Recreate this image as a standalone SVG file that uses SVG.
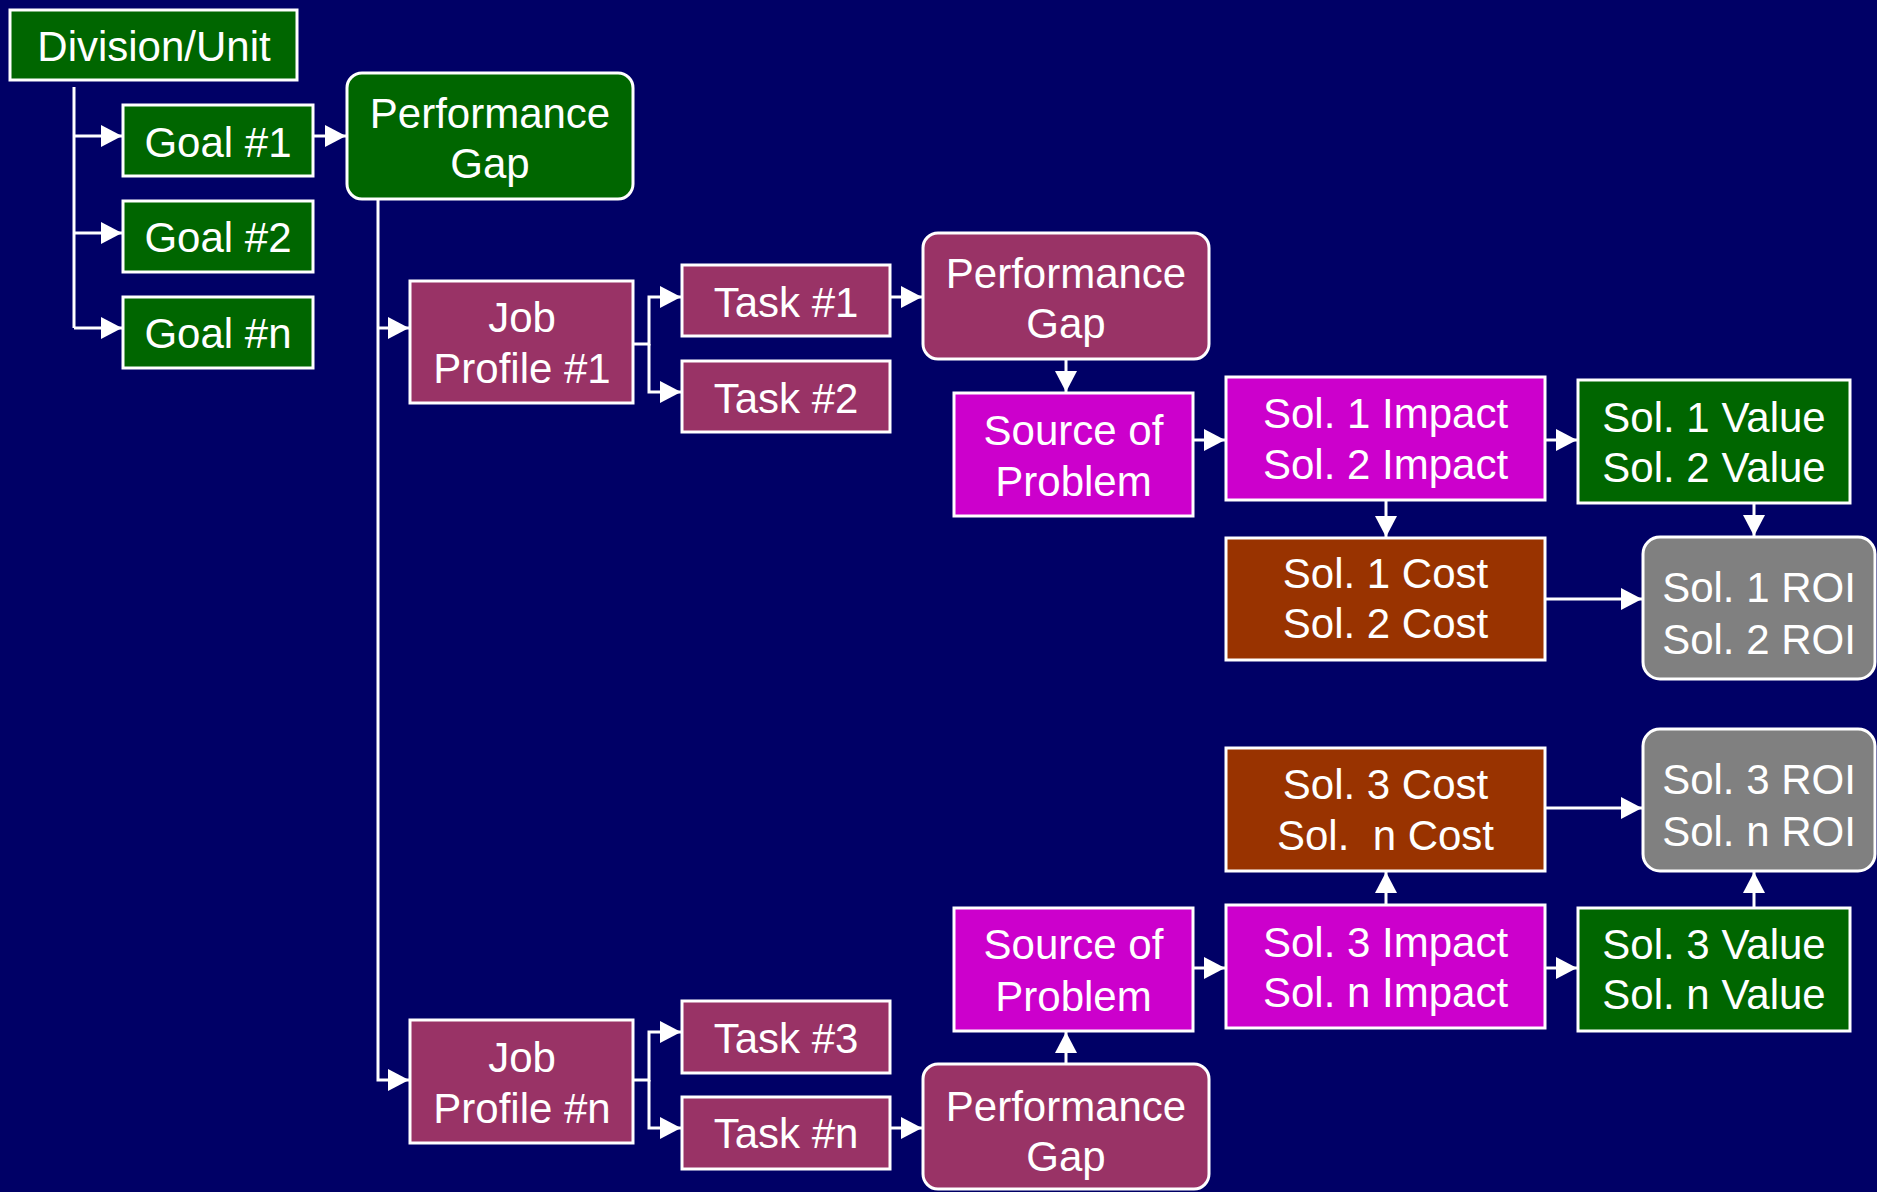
<svg xmlns="http://www.w3.org/2000/svg" width="1877" height="1192" viewBox="0 0 1877 1192">
<defs>
<marker id="ah" markerUnits="userSpaceOnUse" markerWidth="22" markerHeight="22" refX="21" refY="11" orient="auto">
<path d="M0,0 L21,11 L0,22 z" fill="#FFFFFF"/>
</marker>
<style>
.box{stroke:#FFFFFF;stroke-width:3}
.green{fill:#006600}
.maroon{fill:#993366}
.magenta{fill:#CC00CC}
.brown{fill:#993300}
.gray{fill:#808080}
.t{font-family:"Liberation Sans",Arial,sans-serif;font-size:42px;fill:#FFFFFF;text-anchor:middle;white-space:pre}
.conn path{fill:none;stroke:#FFFFFF;stroke-width:3}
</style>
</defs>
<rect x="0" y="0" width="1877" height="1192" fill="#000066"/>

<g id="connectors" class="conn">
<path d="M74,87 V328"/>
<path d="M74,136 H122" marker-end="url(#ah)"/>
<path d="M74,233 H122" marker-end="url(#ah)"/>
<path d="M74,328 H122" marker-end="url(#ah)"/>
<path d="M314,136 H346" marker-end="url(#ah)"/>
<path d="M378,200 V1080 H409" marker-end="url(#ah)"/>
<path d="M378,328 H409" marker-end="url(#ah)"/>
<path d="M634,344 H649 V297 H681" marker-end="url(#ah)"/>
<path d="M649,344 V392 H681" marker-end="url(#ah)"/>
<path d="M891,297 H922" marker-end="url(#ah)"/>
<path d="M1066,360 V392" marker-end="url(#ah)"/>
<path d="M1194,440 H1225" marker-end="url(#ah)"/>
<path d="M1546,440 H1577" marker-end="url(#ah)"/>
<path d="M1386,501 V537" marker-end="url(#ah)"/>
<path d="M1754,504 V536" marker-end="url(#ah)"/>
<path d="M1546,599 H1642" marker-end="url(#ah)"/>
<path d="M634,1080 H649 V1032 H681" marker-end="url(#ah)"/>
<path d="M649,1080 V1128 H681" marker-end="url(#ah)"/>
<path d="M891,1128 H922" marker-end="url(#ah)"/>
<path d="M1066,1063 V1032" marker-end="url(#ah)"/>
<path d="M1194,968 H1225" marker-end="url(#ah)"/>
<path d="M1546,968 H1577" marker-end="url(#ah)"/>
<path d="M1386,904 V872" marker-end="url(#ah)"/>
<path d="M1754,907 V872" marker-end="url(#ah)"/>
<path d="M1546,808 H1642" marker-end="url(#ah)"/>
</g>

<g id="division">
<rect class="box green" x="10" y="10" width="287" height="70"/>
<text class="t" x="154" y="61">Division/Unit</text>
</g>
<g id="goal1">
<rect class="box green" x="123" y="105" width="190" height="71"/>
<text class="t" x="218" y="157">Goal #1</text>
</g>
<g id="goal2">
<rect class="box green" x="123" y="201" width="190" height="71"/>
<text class="t" x="218" y="252">Goal #2</text>
</g>
<g id="goaln">
<rect class="box green" x="123" y="297" width="190" height="71"/>
<text class="t" x="218" y="348">Goal #n</text>
</g>
<g id="perfgap1">
<rect class="box green" x="347" y="73" width="286" height="126" rx="15"/>
<text class="t" x="490" y="128">Performance</text>
<text class="t" x="490" y="178">Gap</text>
</g>
<g id="jobprofile1">
<rect class="box maroon" x="410" y="281" width="223" height="122"/>
<text class="t" x="522" y="332">Job</text>
<text class="t" x="522" y="383">Profile #1</text>
</g>
<g id="task1">
<rect class="box maroon" x="682" y="265" width="208" height="71"/>
<text class="t" x="786" y="317">Task #1</text>
</g>
<g id="task2">
<rect class="box maroon" x="682" y="361" width="208" height="71"/>
<text class="t" x="786" y="413">Task #2</text>
</g>
<g id="perfgap2">
<rect class="box maroon" x="923" y="233" width="286" height="126" rx="15"/>
<text class="t" x="1066" y="288">Performance</text>
<text class="t" x="1066" y="338">Gap</text>
</g>
<g id="source1">
<rect class="box magenta" x="954" y="393" width="239" height="123"/>
<text class="t" x="1073.5" y="445">Source of</text>
<text class="t" x="1073.5" y="496">Problem</text>
</g>
<g id="impact1">
<rect class="box magenta" x="1226" y="377" width="319" height="123"/>
<text class="t" x="1385.5" y="428">Sol. 1 Impact</text>
<text class="t" x="1385.5" y="479">Sol. 2 Impact</text>
</g>
<g id="value1">
<rect class="box green" x="1578" y="380" width="272" height="123"/>
<text class="t" x="1714" y="432">Sol. 1 Value</text>
<text class="t" x="1714" y="482">Sol. 2 Value</text>
</g>
<g id="cost1">
<rect class="box brown" x="1226" y="538" width="319" height="122"/>
<text class="t" x="1385.5" y="588">Sol. 1 Cost</text>
<text class="t" x="1385.5" y="638">Sol. 2 Cost</text>
</g>
<g id="roi1">
<rect class="box gray" x="1643" y="537" width="232" height="142" rx="17"/>
<text class="t" x="1759" y="602">Sol. 1 ROI</text>
<text class="t" x="1759" y="654">Sol. 2 ROI</text>
</g>
<g id="cost2">
<rect class="box brown" x="1226" y="748" width="319" height="123"/>
<text class="t" x="1385.5" y="799">Sol. 3 Cost</text>
<text class="t" x="1385.5" y="850">Sol.  n Cost</text>
</g>
<g id="roi2">
<rect class="box gray" x="1643" y="729" width="232" height="142" rx="17"/>
<text class="t" x="1759" y="794">Sol. 3 ROI</text>
<text class="t" x="1759" y="846">Sol. n ROI</text>
</g>
<g id="impact2">
<rect class="box magenta" x="1226" y="905" width="319" height="123"/>
<text class="t" x="1385.5" y="957">Sol. 3 Impact</text>
<text class="t" x="1385.5" y="1007">Sol. n Impact</text>
</g>
<g id="value2">
<rect class="box green" x="1578" y="908" width="272" height="123"/>
<text class="t" x="1714" y="959">Sol. 3 Value</text>
<text class="t" x="1714" y="1009">Sol. n Value</text>
</g>
<g id="source2">
<rect class="box magenta" x="954" y="908" width="239" height="123"/>
<text class="t" x="1073.5" y="959">Source of</text>
<text class="t" x="1073.5" y="1011">Problem</text>
</g>
<g id="perfgap3">
<rect class="box maroon" x="923" y="1064" width="286" height="125" rx="15"/>
<text class="t" x="1066" y="1121">Performance</text>
<text class="t" x="1066" y="1171">Gap</text>
</g>
<g id="jobprofilen">
<rect class="box maroon" x="410" y="1020" width="223" height="123"/>
<text class="t" x="522" y="1072">Job</text>
<text class="t" x="522" y="1123">Profile #n</text>
</g>
<g id="task3">
<rect class="box maroon" x="682" y="1001" width="208" height="72"/>
<text class="t" x="786" y="1053">Task #3</text>
</g>
<g id="taskn">
<rect class="box maroon" x="682" y="1097" width="208" height="72"/>
<text class="t" x="786" y="1148">Task #n</text>
</g>
</svg>
